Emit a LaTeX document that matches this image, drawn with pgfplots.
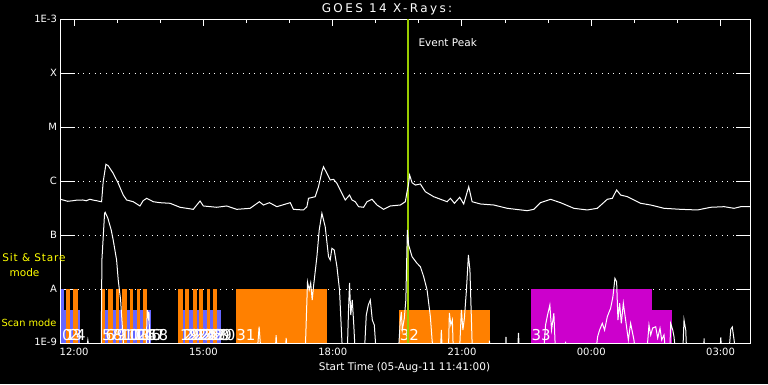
\documentclass[border=0pt]{standalone}
\usepackage{pgfplots}
\pgfplotsset{compat=1.18}
\usepackage{fontspec}
\setmainfont{DejaVu Sans}
\definecolor{orng}{RGB}{255,128,0}
\definecolor{blu}{RGB}{102,102,255}
\definecolor{mag}{RGB}{204,0,204}
\definecolor{grn}{RGB}{153,204,0}
\definecolor{yel}{RGB}{255,255,0}
\newcommand\rect[4]{\addplot[fill=#1,draw=none] coordinates {(#2,-9) (#2,#4) (#3,#4) (#3,-9)};}
\newcommand\lab[2]{\node[anchor=base west,inner sep=0pt,text=white,font=\fontsize{15}{15}\selectfont] at (axis cs:#1,-8.94) {#2};}
\begin{document}
\begin{tikzpicture}[x=1pt,y=1pt]
\fill[black] (0,0) rectangle (768,384);
\useasboundingbox (0,0) rectangle (768,384);
\begin{axis}[
  at={(60.5pt,40.7pt)}, anchor=south west, scale only axis,
  width=689.5pt, height=324pt,
  xmin=11.6833, xmax=27.6833, ymin=-9, ymax=-3,
  axis line style={white, line width=1pt},
  xtick={12,15,18,21,24,27},
  xticklabels={12:00,15:00,18:00,21:00,00:00,03:00},
  minor xtick={13,14,16,17,19,20,22,23,25,26},
  xtick pos=right, xticklabel pos=left,
  ytick={-9,-8,-7,-6,-5,-4,-3},
  yticklabels={\raisebox{3pt}{1E-9},A,B,C,M,X,\raisebox{-3.5pt}{1E-3}},
  major tick length=14pt, minor tick length=3.3pt,
  xtick style={white, solid, line width=1pt, /pgfplots/major tick length=6.7pt},
  ytick style={white, solid, line width=1pt},
  tick style={white, solid, line width=1pt},
  ymajorgrids,
  grid style={white, line width=1pt, dash pattern=on 1pt off 4.7pt},
  ticklabel style={text=white, font=\fontsize{10}{12}\selectfont},
  xticklabel style={yshift=-1pt},
]
% scan bars: region 1
\rect{blu}{11.6833}{12.132}{-8.383}
\rect{orng}{11.800}{11.900}{-8}
\rect{orng}{11.977}{12.079}{-8}
\rect{blu}{11.6833}{11.760}{-8}
% region 2
\rect{blu}{12.690}{13.776}{-8.383}
\rect{orng}{12.637}{12.713}{-8}
\rect{orng}{12.790}{12.892}{-8}
\rect{orng}{12.962}{13.046}{-8}
\rect{orng}{13.115}{13.218}{-8}
\rect{orng}{13.294}{13.371}{-8}
\rect{orng}{13.450}{13.527}{-8}
\rect{orng}{13.604}{13.683}{-8}
% region 3
\rect{blu}{14.496}{15.402}{-8.383}
\rect{orng}{14.417}{14.519}{-8}
\rect{orng}{14.573}{14.673}{-8}
\rect{orng}{14.752}{14.845}{-8}
\rect{orng}{14.905}{14.998}{-8}
\rect{orng}{15.077}{15.154}{-8}
\rect{orng}{15.230}{15.323}{-8}
% sit & stare / scans
\rect{orng}{15.758}{17.866}{-8}
\rect{orng}{19.530}{21.661}{-8.383}
\rect{mag}{22.590}{25.402}{-8}
\rect{mag}{25.402}{25.867}{-8.383}
% labels
\lab{11.714}{0}\lab{11.795}{1}\lab{11.877}{2}\lab{11.958}{3}\lab{12.040}{4}
\lab{12.644}{5}\lab{12.728}{6}\lab{12.811}{7}\lab{12.895}{8}\lab{12.979}{9}
\lab{13.062}{10}\lab{13.146}{11}\lab{13.230}{12}\lab{13.313}{13}\lab{13.397}{14}
\lab{13.481}{15}\lab{13.565}{16}\lab{13.648}{17}\lab{13.732}{18}
\lab{14.456}{19}\lab{14.532}{20}\lab{14.608}{21}\lab{14.684}{22}\lab{14.760}{23}
\lab{14.836}{24}\lab{14.912}{25}\lab{14.988}{26}\lab{15.064}{27}\lab{15.140}{28}
\lab{15.216}{29}\lab{15.292}{30}
\lab{15.758}{31}\lab{19.553}{32}\lab{22.613}{33}
% event peak
\addplot[grn, line width=2.3pt] coordinates {(19.755,-9) (19.755,-3)};
% long channel
\addplot[white, line width=1pt] coordinates {
(11.6833,-6.333) (11.85,-6.37) (11.977,-6.359) (12.05,-6.35) (12.202,-6.346) (12.28,-6.36)
(12.365,-6.333) (12.45,-6.35) (12.521,-6.359) (12.58,-6.37) (12.637,-6.378) (12.674,-6.007)
(12.737,-5.685) (12.790,-5.711) (12.906,-5.852) (13.023,-6.037) (13.139,-6.254) (13.218,-6.346)
(13.371,-6.378) (13.527,-6.457) (13.60,-6.36) (13.683,-6.315) (13.836,-6.378) (13.992,-6.396)
(14.224,-6.407) (14.456,-6.481) (14.765,-6.519) (14.921,-6.365) (14.998,-6.457) (15.309,-6.481)
(15.542,-6.457) (15.774,-6.519) (16.083,-6.5) (16.299,-6.378) (16.392,-6.439) (16.532,-6.396)
(16.704,-6.470) (17.013,-6.396) (17.089,-6.519) (17.322,-6.531) (17.401,-6.470) (17.438,-6.315)
(17.594,-6.285) (17.670,-6.1) (17.749,-5.822) (17.786,-5.730) (17.865,-5.852) (17.942,-5.976)
(18.019,-5.963) (18.098,-6.037) (18.214,-6.222) (18.291,-6.346) (18.391,-6.254) (18.447,-6.346)
(18.523,-6.378) (18.600,-6.470) (18.716,-6.481) (18.795,-6.378) (18.911,-6.333) (19.027,-6.439)
(19.181,-6.519) (19.337,-6.457) (19.569,-6.439) (19.685,-6.378) (19.725,-6.193) (19.760,-6.05)
(19.785,-5.883) (19.841,-6.026) (19.917,-6.069) (20.034,-6.050) (20.150,-6.193) (20.343,-6.285)
(20.654,-6.378) (20.731,-6.315) (20.824,-6.407) (20.947,-6.296) (21.040,-6.420) (21.156,-6.1)
(21.235,-6.378) (21.428,-6.420) (21.737,-6.439) (22.049,-6.5) (22.513,-6.544) (22.667,-6.519)
(22.822,-6.396) (23.055,-6.333) (23.287,-6.396) (23.596,-6.5) (23.908,-6.531) (24.140,-6.5)
(24.372,-6.333) (24.488,-6.315) (24.588,-6.161) (24.681,-6.254) (24.837,-6.285) (24.990,-6.346)
(25.146,-6.407) (25.379,-6.439) (25.688,-6.5) (26.076,-6.519) (26.464,-6.531) (26.773,-6.481)
(27.082,-6.470) (27.314,-6.5) (27.470,-6.470) (27.6833,-6.470)};
% short channel
\addplot[white, line width=1pt] coordinates {
(11.6833,-9.2) (12.272,-9.2) (12.318,-8.94) (12.365,-9.2) (12.627,-9.2) (12.644,-7.457)
(12.706,-6.593) (12.720,-6.574) (12.783,-6.685) (12.860,-6.902) (12.906,-7.087) (12.985,-7.457)
(13.023,-7.828) (13.078,-8.198) (13.139,-8.939) (13.155,-9.2) (13.666,-9.2) (13.696,-8.383)
(13.720,-8.513) (13.736,-8.42) (13.759,-9.2) (16.246,-9.2) (16.292,-8.693) (16.339,-9.2)
(16.664,-9.2) (16.687,-8.85) (16.711,-9.2) (16.896,-9.2) (16.920,-8.9) (16.943,-9.2)
(17.361,-9.2) (17.415,-7.865) (17.454,-8.013) (17.489,-7.883) (17.524,-8.198) (17.554,-7.952)
(17.633,-7.396) (17.687,-6.902) (17.749,-6.593) (17.826,-6.841) (17.903,-7.396) (17.942,-7.457)
(17.981,-7.241) (18.035,-7.272) (18.098,-7.581) (18.158,-8.013) (18.214,-8.97) (18.244,-9.2)
(18.337,-9.2) (18.367,-8.383) (18.391,-7.883) (18.419,-8.476) (18.454,-8.198) (18.489,-8.661)
(18.523,-9.2) (18.733,-9.2) (18.779,-8.476) (18.826,-8.291) (18.872,-8.198) (18.919,-8.569)
(18.965,-8.661) (19.011,-9.2) (19.522,-9.2) (19.569,-8.569) (19.592,-8.42) (19.615,-8.754)
(19.662,-8.531) (19.697,-8.198) (19.732,-6.902) (19.762,-7.18) (19.841,-7.396) (19.957,-7.519)
(20.034,-7.581) (20.111,-7.767) (20.190,-8.013) (20.266,-8.507) (20.306,-8.939) (20.336,-9.2)
(20.498,-9.2) (20.521,-8.754) (20.544,-9.2) (20.684,-9.2) (20.707,-8.439) (20.742,-8.661)
(20.777,-8.569) (20.800,-9.2) (20.940,-9.2) (20.986,-8.383) (21.021,-8.754) (21.056,-8.531)
(21.103,-8.013) (21.149,-7.365) (21.184,-7.643) (21.219,-8.569) (21.242,-9.2) (21.614,-9.2)
(21.637,-8.95) (21.661,-9.2) (22.009,-9.2) (22.021,-8.883) (22.032,-9.2) (22.288,-9.2)
(22.311,-8.809) (22.335,-9.2) (22.892,-9.2) (22.939,-8.661) (22.985,-8.476) (23.039,-8.291)
(23.078,-8.754) (23.132,-8.444) (23.171,-9.2) (23.38,-9.2) (23.404,-8.97) (23.427,-9.2)
(24.100,-9.2) (24.147,-8.878) (24.193,-8.754) (24.256,-8.630) (24.309,-8.754) (24.372,-8.507)
(24.414,-8.42) (24.449,-8.352) (24.502,-8.137) (24.549,-7.796) (24.588,-7.859) (24.619,-8.569)
(24.658,-8.259) (24.697,-8.630) (24.744,-8.259) (24.797,-8.569) (24.860,-8.939) (24.913,-8.630)
(24.990,-8.939) (25.030,-9.2) (25.286,-9.2) (25.339,-8.661) (25.379,-8.846) (25.425,-8.717)
(25.495,-8.693) (25.541,-8.902) (25.595,-8.722) (25.634,-8.939) (25.688,-8.846) (25.727,-9.2)
(25.820,-9.2) (25.843,-8.630) (25.890,-8.754) (25.920,-8.878) (25.960,-9.2) (26.122,-9.2)
(26.152,-8.569) (26.192,-8.754) (26.215,-9.2) (26.610,-9.2) (26.617,-8.907) (26.633,-9.2)
(26.982,-9.2) (27.005,-8.889) (27.029,-9.2) (27.191,-9.2) (27.237,-8.741) (27.272,-8.698)
(27.314,-8.939) (27.354,-9.2) (27.6833,-9.2)};
\end{axis}
\node[text=white, font=\fontsize{12}{14}\selectfont\addfontfeature{LetterSpace=20}] at (387,374.5) {GOES 14 X-Rays:};
\node[text=white, font=\fontsize{10.5}{12}\selectfont] at (404.5,16) {Start Time (05-Aug-11 11:41:00)};
\node[text=white, font=\fontsize{10.5}{12}\selectfont, anchor=west, inner sep=0pt] at (418.3,341) {Event Peak};
\node[text=yel, font=\fontsize{10.5}{13}\selectfont\addfontfeature{LetterSpace=8}, inner sep=0pt] at (34,126) {Sit \& Stare};
\node[text=yel, font=\fontsize{10.5}{13}\selectfont, inner sep=0pt] at (24.5,111) {mode};
\node[text=yel, font=\fontsize{9.8}{13}\selectfont, inner sep=0pt] at (29,61) {Scan mode};
\end{tikzpicture}
\end{document}
